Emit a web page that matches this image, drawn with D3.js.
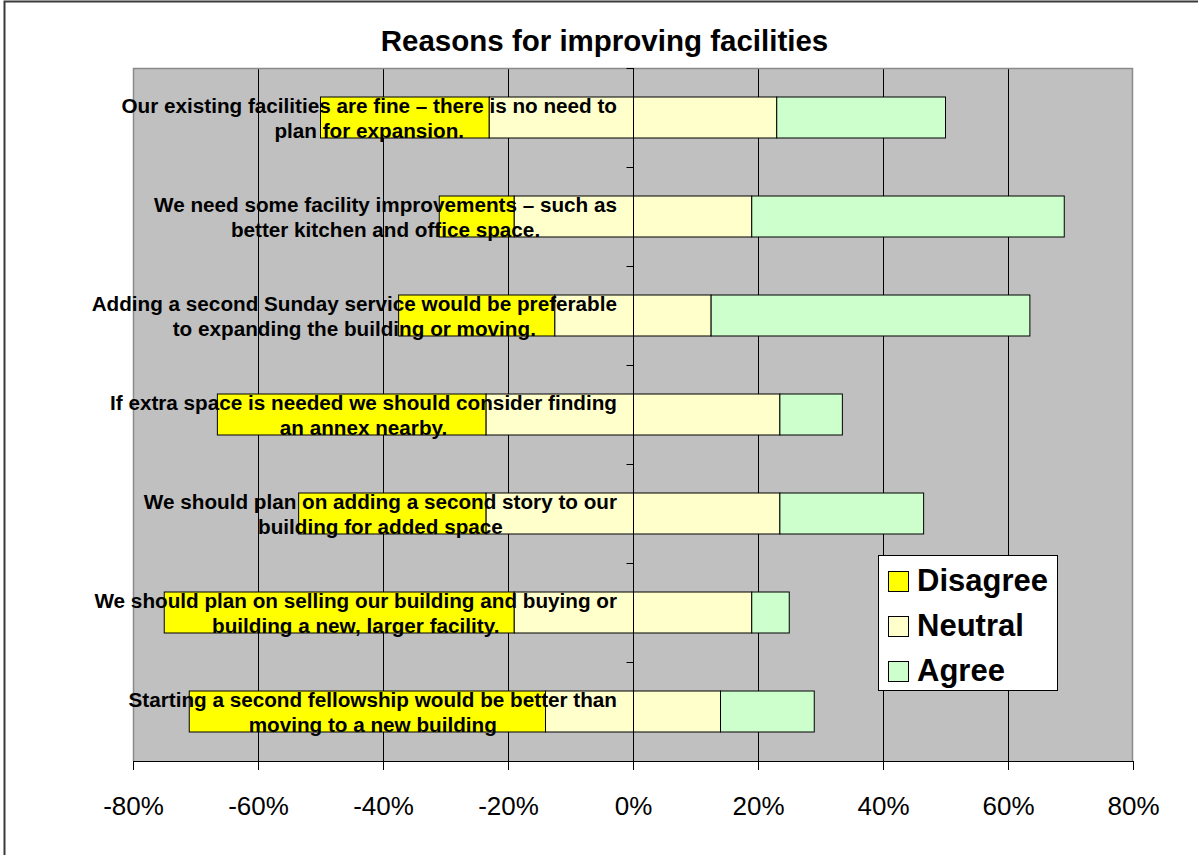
<!DOCTYPE html>
<html>
<head>
<meta charset="utf-8">
<script src="https://cdn.jsdelivr.net/npm/d3@7"></script>
<style>
  html, body { margin: 0; padding: 0; background: #ffffff; }
  svg { display: block; font-family: "Liberation Sans", Arial, sans-serif; }
</style>
</head>
<body>
<svg id="chart" width="1198" height="855"></svg>
<script>
const categories = [
  "Our existing facilities are fine – there is no need to\nplan for expansion.",
  "We need some facility improvements – such as\nbetter kitchen and office space.",
  "Adding a second Sunday service would be preferable\nto expanding the building or moving.",
  "If extra space is needed we should consider finding\nan annex nearby.",
  "We should plan on adding a second story to our\nbuilding for added space",
  "We should plan on selling our building and buying or\nbuilding a new, larger facility.",
  "Starting a second fellowship would be better than\nmoving to a new building"
];
const disagree = [27, 12, 25, 43, 30, 56, 57];
const neutral  = [46, 38, 25, 47, 47, 38, 28];
const agree    = [27, 50, 51, 10, 23, 6, 15];
const seriesNames = ["Disagree", "Neutral", "Agree"];
const seriesColors = ["#FFFF00", "#FFFFCC", "#CCFFCC"];
const xTicks = [-80, -60, -40, -20, 0, 20, 40, 60, 80];
const titleText = "Reasons for improving facilities";

const svg = d3.select("#chart");
const plot = { left: 133, right: 1133, top: 68, bottom: 761 };

// outer frame
svg.append("rect").attr("x", 4.5).attr("y", 1.5).attr("width", 1300).attr("height", 1000)
  .attr("fill", "#ffffff").attr("stroke", "#3a3a3a").attr("stroke-width", 2);

const x = d3.scaleLinear().domain([-80, 80]).range([plot.left, plot.right]);
const y = d3.scaleBand().domain(d3.range(categories.length))
  .range([plot.top, plot.bottom]).paddingInner(0.586).paddingOuter(0.293);
const yOuter = d3.scaleBand().domain(d3.range(categories.length))
  .range([plot.top, plot.bottom]).padding(0);

// plot background
svg.append("rect").attr("x", plot.left).attr("y", plot.top)
  .attr("width", plot.right - plot.left).attr("height", plot.bottom - plot.top)
  .attr("fill", "#C0C0C0");

// gridlines
svg.append("g").selectAll("line").data(xTicks.filter(d => d !== -80 && d !== 80 && d !== 0))
  .join("line")
  .attr("x1", d => Math.round(x(d)) + 0.5).attr("x2", d => Math.round(x(d)) + 0.5)
  .attr("y1", plot.top).attr("y2", plot.bottom)
  .attr("stroke", "#000").attr("stroke-width", 1);

// plot border (top, left, right)
svg.append("path")
  .attr("d", `M${plot.left + 0.5},${plot.bottom} V${plot.top + 0.5} H${plot.right - 0.5} V${plot.bottom}`)
  .attr("fill", "none").attr("stroke", "#8a8a8a").attr("stroke-width", 1.5);

// stacked diverging bars
const rows = categories.map((c, i) => {
  const n = neutral[i];
  const d = disagree[i];
  const a = agree[i];
  return [
    { s: 0, x0: -n / 2 - d, x1: -n / 2, i },
    { s: 1, x0: -n / 2, x1: n / 2, i },
    { s: 2, x0: n / 2, x1: n / 2 + a, i }
  ];
}).flat();

svg.append("g").selectAll("rect").data(rows).join("rect")
  .attr("x", d => x(d.x0)).attr("width", d => x(d.x1) - x(d.x0))
  .attr("y", d => y(d.i)).attr("height", y.bandwidth())
  .attr("fill", d => seriesColors[d.s])
  .attr("stroke", "#000").attr("stroke-width", 1);

// y axis (at 0)
const x0 = Math.round(x(0)) + 0.5;
const yAxisG = svg.append("g");
yAxisG.append("line").attr("x1", x0).attr("x2", x0)
  .attr("y1", plot.top).attr("y2", plot.bottom).attr("stroke", "#000").attr("stroke-width", 1);
yAxisG.selectAll("line.tk").data(d3.range(categories.length + 1)).join("line").attr("class", "tk")
  .attr("x1", x0 - 7).attr("x2", x0)
  .attr("y1", d => Math.round(d < categories.length ? yOuter(d) : plot.bottom) + 0.5)
  .attr("y2", d => Math.round(d < categories.length ? yOuter(d) : plot.bottom) + 0.5)
  .attr("stroke", "#000").attr("stroke-width", 1);

// x axis
const xAxis = d3.axisBottom(x).tickValues(xTicks).tickSize(9).tickSizeOuter(0)
  .tickFormat(d => d + "%");
const xg = svg.append("g").attr("transform", `translate(0,${plot.bottom})`).call(xAxis);
xg.select(".domain").attr("stroke", "#000").attr("stroke-width", 1.2);
xg.selectAll(".tick line").attr("stroke", "#000");
xg.selectAll(".tick text").attr("y", 54).attr("dy", 0)
  .attr("font-size", 26).attr("font-family", '"Liberation Sans", Arial, sans-serif')
  .attr("fill", "#000");

// category labels (drawn on top of bars)
const labelRight = 617;
const lg = svg.append("g");
categories.forEach((c, i) => {
  const lines = c.split("\n");
  const cy = yOuter(i) + yOuter.bandwidth() / 2;
  const t = lg.append("text").attr("font-size", 20.7).attr("font-weight", "bold")
    .attr("fill", "#000").attr("text-anchor", "middle");
  const spans = lines.map((ln, k) => t.append("tspan").attr("y", cy - 5 + k * 25).text(ln));
  const w = d3.max(spans, s => s.node().getComputedTextLength());
  spans.forEach(s => s.attr("x", labelRight - w / 2));
});

// title
svg.append("text").attr("x", 604.5).attr("y", 51).attr("text-anchor", "middle")
  .attr("font-size", 29.5).attr("font-weight", "bold").attr("fill", "#000").text(titleText);

// legend
const legend = svg.append("g");
legend.append("rect").attr("x", 878.5).attr("y", 555.5).attr("width", 179).attr("height", 135)
  .attr("fill", "#fff").attr("stroke", "#000").attr("stroke-width", 1);
const li = legend.selectAll("g.item").data(seriesNames).join("g").attr("class", "item")
  .attr("transform", (d, k) => `translate(0,${k * 45})`);
li.append("rect").attr("x", 888.5).attr("y", 571.5).attr("width", 20).attr("height", 20)
  .attr("fill", (d, k) => seriesColors[k]).attr("stroke", "#000").attr("stroke-width", 1);
li.append("text").attr("x", 917).attr("y", 591).attr("font-size", 31).attr("font-weight", "bold")
  .attr("fill", "#000").text(d => d);
</script>
</body>
</html>
